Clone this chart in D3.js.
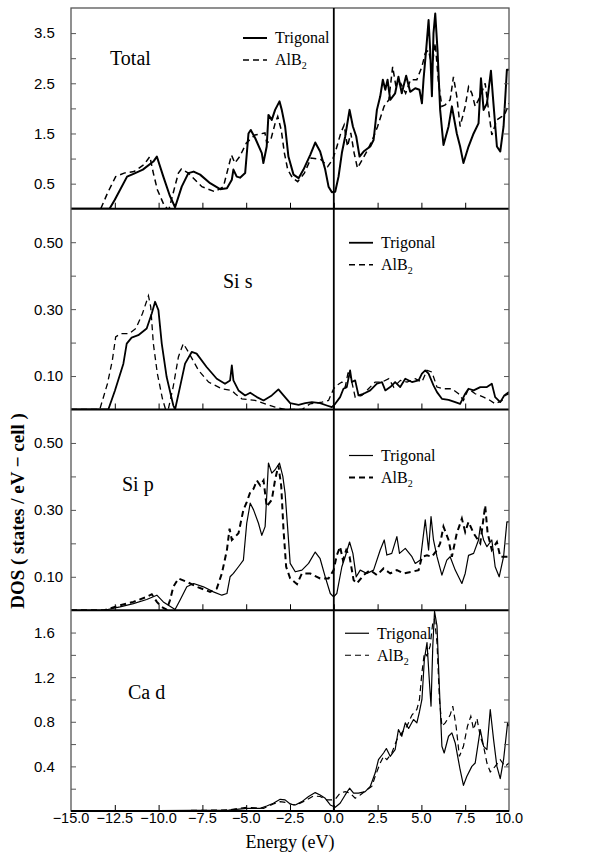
<!DOCTYPE html>
<html>
<head>
<meta charset="utf-8">
<script src="https://cdn.jsdelivr.net/npm/d3@7"></script>
<style>
	body { margin: 0; background: #fff; }
	svg { display: block; }
	text.tick-label { font-family: "Liberation Sans", Arial, sans-serif; fill: #000; }
	text.serif { font-family: "Liberation Serif", "DejaVu Serif", serif; fill: #000; }
</style>
</head>
<body>
<svg id="chart" width="616" height="862"></svg>
<script>
(function() {

	var energyTicks = [-15, -12.5, -10, -7.5, -5, -2.5, 0, 2.5, 5, 7.5, 10];
	var panelNames = ['Total', 'Si s', 'Si p', 'Ca d'];
	var seriesNames = ['Trigonal', 'AlB'];
	var yMax = [4.0, 0.6, 0.6, 1.8];
	var yTickStep = [0.5, 0.1, 0.1, 0.2];
	var yTickLabels = [[0.5, 1.5, 2.5, 3.5], [0.1, 0.3, 0.5], [0.1, 0.3, 0.5], [0.4, 0.8, 1.2, 1.6]];

	// [energy eV, DOS]
	var totalTrigonal = [[-15,0],[-12.8,0],[-12.5,0.18],[-11.8,0.64],[-11.4,0.70],[-10.9,0.78],[-10.3,0.94],[-10.1,1.04],[-9.73,0.64],[-9.35,0.25],[-9.06,0.03],[-8.68,0.44],[-8.3,0.71],[-8.0,0.74],[-7.63,0.68],[-7.06,0.51],[-6.49,0.39],[-6.1,0.41],[-5.82,0.58],[-5.73,0.78],[-5.54,0.64],[-5.35,0.62],[-5.06,0.71],[-4.87,1.5],[-4.74,1.57],[-4.49,1.41],[-4.11,1.11],[-4.02,0.91],[-3.83,1.24],[-3.73,1.87],[-3.54,1.77],[-3.35,1.97],[-3.1,2.14],[-2.97,1.97],[-2.78,1.64],[-2.59,1.04],[-2.3,0.68],[-2.01,0.61],[-1.73,0.78],[-1.35,1.07],[-1.06,1.32],[-0.78,1.14],[-0.49,0.78],[-0.3,0.44],[-0.11,0.33],[0.08,0.34],[0.27,0.64],[0.46,1.11],[0.65,1.44],[0.9,1.97],[1.09,1.64],[1.28,1.44],[1.47,1.04],[1.7,1.14],[2.08,1.24],[2.27,1.37],[2.46,1.97],[2.65,2.24],[2.8,2.57],[2.94,2.37],[3.07,2.57],[3.22,2.17],[3.5,2.30],[3.69,2.63],[3.88,2.30],[4.13,2.65],[4.36,2.33],[4.65,2.40],[4.89,2.37],[5.03,2.10],[5.12,2.57],[5.27,3.16],[5.41,3.76],[5.5,3.16],[5.6,2.24],[5.69,3.5],[5.79,3.89],[5.92,3.16],[6.07,1.97],[6.26,1.27],[6.55,1.64],[6.74,2.04],[7.02,1.5],[7.21,1.24],[7.4,0.91],[7.69,1.24],[7.98,1.5],[8.26,1.70],[8.4,2.6],[8.55,1.97],[8.74,2.10],[8.97,2.75],[9.08,2.24],[9.31,1.24],[9.5,1.14],[9.69,1.64],[9.88,2.77],[10,2.77]];
	var totalAlB2 = [[-15,0],[-13.3,0],[-12.92,0.31],[-12.45,0.64],[-11.97,0.71],[-11.4,0.74],[-10.83,0.88],[-10.5,1.04],[-10.3,0.71],[-10.07,0.38],[-9.7,0.08],[-9.5,0],[-9.4,0],[-9.17,0.31],[-8.87,0.71],[-8.7,0.79],[-8.3,0.71],[-7.53,0.44],[-6.79,0.34],[-6.3,0.44],[-5.84,1.07],[-5.65,0.91],[-5.37,1.04],[-4.99,1.31],[-4.5,1.47],[-3.93,1.51],[-3.83,1.31],[-3.6,1.37],[-3.35,1.7],[-3.2,1.84],[-3.0,1.57],[-2.82,1.11],[-2.63,0.78],[-2.35,0.61],[-2.06,0.54],[-1.68,0.71],[-1.3,1.01],[-0.73,0.98],[-0.35,0.84],[-0.07,0.98],[0.12,1.17],[0.4,1.51],[0.59,1.67],[0.78,1.24],[0.97,1.51],[1.16,1.11],[1.35,0.81],[1.63,0.98],[1.93,1.17],[2.2,1.37],[2.5,1.64],[2.87,2.04],[3.14,2.17],[3.36,2.83],[3.55,2.43],[3.82,2.5],[4.1,2.3],[4.38,2.57],[4.74,2.57],[5.03,2.83],[5.22,3.1],[5.41,3.16],[5.6,2.83],[5.79,3.3],[5.98,2.5],[6.17,2.04],[6.36,2.07],[6.64,2.17],[6.83,2.63],[7.02,2.24],[7.21,1.64],[7.5,2.04],[7.69,2.43],[7.88,2.3],[8.07,2.04],[8.36,2.24],[8.64,2.5],[8.83,1.97],[9.02,1.47],[9.31,1.77],[9.6,1.84],[9.78,1.9],[10,2.1]];

	var sisTrigonal = [[-15,0],[-12.87,0],[-12.49,0.057],[-12.01,0.137],[-11.82,0.197],[-11.54,0.215],[-11.16,0.222],[-10.68,0.242],[-10.39,0.287],[-10.2,0.322],[-10.01,0.297],[-9.82,0.197],[-9.54,0.097],[-9.16,0.012],[-9.06,0],[-8.78,0.067],[-8.49,0.137],[-8.11,0.172],[-7.83,0.167],[-7.26,0.127],[-6.68,0.092],[-6.21,0.077],[-5.92,0.087],[-5.82,0.132],[-5.73,0.087],[-5.44,0.057],[-5.06,0.042],[-4.77,0.05],[-4.39,0.037],[-4.01,0.027],[-3.54,0.042],[-3.16,0.06],[-2.87,0.042],[-2.49,0.019],[-2.01,0.014],[-1.63,0.019],[-1.25,0.022],[-0.78,0.019],[-0.4,0.012],[-0.11,0.007],[0.08,0.017],[0.36,0.037],[0.55,0.062],[0.74,0.067],[0.93,0.117],[1.03,0.082],[1.22,0.087],[1.41,0.042],[1.7,0.047],[2.08,0.057],[2.46,0.077],[2.75,0.082],[2.94,0.057],[3.22,0.067],[3.5,0.082],[3.79,0.067],[4.08,0.092],[4.46,0.082],[4.84,0.087],[5.03,0.107],[5.22,0.117],[5.41,0.107],[5.69,0.072],[5.89,0.052],[6.17,0.032],[6.55,0.029],[6.93,0.022],[7.21,0.017],[7.5,0.047],[7.69,0.062],[7.98,0.057],[8.36,0.067],[8.74,0.067],[9.02,0.077],[9.21,0.037],[9.5,0.022],[9.73,0.042],[10,0.052]];
	var sisAlB2 = [[-15,0],[-13.36,0],[-12.92,0.077],[-12.64,0.147],[-12.45,0.217],[-12.16,0.227],[-11.68,0.227],[-11.3,0.242],[-10.92,0.287],[-10.58,0.34],[-10.45,0.307],[-10.3,0.197],[-10.07,0.107],[-9.78,0.032],[-9.6,0],[-9.45,0],[-9.17,0.067],[-8.87,0.157],[-8.59,0.197],[-8.3,0.172],[-7.72,0.117],[-7.15,0.082],[-6.39,0.062],[-5.82,0.057],[-5.63,0.047],[-5.25,0.032],[-4.49,0.027],[-3.92,0.017],[-3.35,0.007],[-2.78,0],[-1.82,0],[-1.35,0.017],[-0.68,0.022],[-0.3,0.027],[-0.01,0.062],[0.17,0.072],[0.46,0.082],[0.65,0.067],[0.84,0.117],[1.03,0.082],[1.22,0.037],[1.6,0.042],[1.98,0.062],[2.36,0.082],[2.75,0.082],[3.14,0.092],[3.42,0.067],[3.8,0.087],[4.18,0.082],[4.65,0.092],[5.03,0.082],[5.32,0.117],[5.6,0.112],[5.89,0.067],[6.26,0.062],[6.74,0.062],[7.12,0.047],[7.4,0.027],[7.69,0.062],[8.07,0.047],[8.55,0.037],[8.93,0.027],[9.21,0.017],[9.6,0.027],[9.78,0.042],[10,0.047]];

	var sipTrigonal = [[-15,0],[-13.1,0],[-12.2,0.01],[-11.44,0.02],[-10.68,0.032],[-10.1,0.045],[-9.73,0.025],[-9.35,0.012],[-9.06,0.002],[-8.78,0.03],[-8.39,0.07],[-8.0,0.08],[-7.44,0.07],[-6.87,0.055],[-6.39,0.045],[-6.1,0.05],[-5.92,0.10],[-5.73,0.11],[-5.44,0.13],[-5.16,0.15],[-4.97,0.26],[-4.77,0.32],[-4.58,0.30],[-4.3,0.26],[-4.11,0.224],[-3.92,0.25],[-3.83,0.34],[-3.73,0.44],[-3.54,0.41],[-3.35,0.42],[-3.1,0.44],[-2.91,0.40],[-2.78,0.35],[-2.64,0.25],[-2.49,0.14],[-2.2,0.115],[-1.82,0.12],[-1.44,0.14],[-1.06,0.174],[-0.78,0.154],[-0.49,0.10],[-0.2,0.05],[-0.01,0.04],[0.17,0.05],[0.46,0.13],[0.65,0.16],[0.9,0.204],[1.09,0.17],[1.28,0.10],[1.51,0.12],[1.89,0.11],[2.27,0.12],[2.65,0.18],[2.88,0.21],[3.03,0.165],[3.31,0.17],[3.6,0.22],[3.75,0.17],[4.08,0.185],[4.46,0.16],[4.65,0.14],[4.94,0.15],[5.22,0.27],[5.41,0.18],[5.55,0.28],[5.69,0.21],[5.89,0.16],[6.17,0.105],[6.45,0.15],[6.64,0.16],[6.93,0.12],[7.31,0.08],[7.5,0.11],[7.69,0.164],[7.98,0.17],[8.26,0.21],[8.36,0.25],[8.55,0.21],[8.74,0.19],[9.02,0.21],[9.21,0.13],[9.44,0.10],[9.69,0.16],[9.88,0.264],[10,0.264]];
	var sipAlB2 = [[-15,0],[-13.1,0],[-12.2,0.015],[-11.44,0.025],[-10.68,0.04],[-10.39,0.048],[-10.1,0.025],[-9.82,0.01],[-9.54,0.002],[-9.35,0.03],[-9.16,0.07],[-8.87,0.095],[-8.39,0.085],[-7.82,0.07],[-7.06,0.055],[-6.68,0.065],[-6.39,0.11],[-6.1,0.18],[-5.95,0.244],[-5.82,0.21],[-5.63,0.22],[-5.44,0.23],[-5.16,0.30],[-4.97,0.323],[-4.77,0.353],[-4.58,0.363],[-4.39,0.388],[-4.2,0.373],[-4.01,0.388],[-3.83,0.31],[-3.54,0.33],[-3.35,0.39],[-3.16,0.433],[-3.0,0.37],[-2.87,0.24],[-2.72,0.13],[-2.49,0.095],[-2.1,0.078],[-1.82,0.11],[-1.35,0.11],[-0.78,0.095],[-0.3,0.095],[-0.01,0.12],[0.17,0.164],[0.36,0.19],[0.52,0.15],[0.71,0.18],[0.9,0.16],[1.13,0.09],[1.32,0.08],[1.7,0.105],[2.08,0.12],[2.46,0.105],[2.84,0.125],[3.22,0.11],[3.6,0.12],[3.98,0.11],[4.46,0.115],[4.84,0.12],[5.03,0.16],[5.32,0.164],[5.6,0.16],[5.89,0.18],[6.07,0.20],[6.26,0.25],[6.55,0.21],[6.74,0.16],[7.02,0.23],[7.31,0.274],[7.5,0.234],[7.69,0.264],[7.98,0.23],[8.36,0.20],[8.64,0.313],[8.78,0.23],[9.02,0.18],[9.31,0.204],[9.5,0.16],[9.78,0.16],[10,0.16]];

	var cadTrigonal = [[-15,0],[-13,0],[-10,0.003],[-8,0.005],[-6,0.008],[-4.97,0.024],[-4.2,0.024],[-3.83,0.045],[-3.45,0.07],[-3.06,0.105],[-2.78,0.1],[-2.49,0.063],[-2.2,0.054],[-1.82,0.084],[-1.44,0.13],[-1.06,0.165],[-0.78,0.144],[-0.49,0.114],[-0.2,0.054],[0.08,0.033],[0.36,0.07],[0.65,0.144],[0.9,0.204],[1.13,0.16],[1.41,0.16],[1.79,0.174],[2.08,0.22],[2.36,0.34],[2.55,0.46],[2.84,0.52],[3.0,0.56],[3.22,0.49],[3.5,0.55],[3.69,0.73],[3.88,0.67],[4.08,0.79],[4.27,0.74],[4.55,0.82],[4.74,0.79],[4.89,0.89],[5.03,1.0],[5.17,1.36],[5.32,1.51],[5.46,1.15],[5.55,0.94],[5.65,1.48],[5.75,1.79],[5.89,1.66],[6.03,1.09],[6.17,0.58],[6.3,0.52],[6.55,0.67],[6.74,0.70],[6.93,0.61],[7.21,0.37],[7.4,0.23],[7.59,0.31],[7.88,0.40],[8.07,0.43],[8.36,0.73],[8.55,0.58],[8.74,0.55],[8.93,0.91],[9.12,0.64],[9.31,0.40],[9.5,0.29],[9.69,0.46],[9.92,0.79],[10,0.76]];
	var cadAlB2 = [[-15,0],[-13,0],[-10,0.003],[-8,0.005],[-6,0.01],[-4.97,0.033],[-4.01,0.024],[-3.45,0.063],[-3.06,0.084],[-2.68,0.075],[-2.3,0.054],[-1.92,0.07],[-1.54,0.1],[-1.16,0.135],[-0.78,0.13],[-0.4,0.1],[-0.11,0.1],[0.08,0.105],[0.36,0.16],[0.65,0.174],[0.93,0.16],[1.22,0.114],[1.51,0.144],[1.89,0.19],[2.17,0.22],[2.36,0.31],[2.65,0.43],[2.84,0.49],[3.03,0.46],[3.31,0.52],[3.6,0.64],[3.88,0.70],[4.17,0.76],[4.46,0.86],[4.74,0.91],[4.89,1.0],[5.03,1.24],[5.17,1.42],[5.32,1.39],[5.5,1.48],[5.65,1.69],[5.75,1.72],[5.89,1.51],[6.03,1.0],[6.17,0.76],[6.36,0.79],[6.64,0.86],[6.79,0.94],[6.98,0.76],[7.17,0.49],[7.4,0.58],[7.63,0.76],[7.82,0.85],[7.98,0.73],[8.17,0.83],[8.36,0.67],[8.55,0.58],[8.74,0.43],[8.93,0.35],[9.21,0.40],[9.5,0.46],[9.78,0.40],[10,0.43]];

	var trigonalSeries = [totalTrigonal, sisTrigonal, sipTrigonal, cadTrigonal];
	var alb2Series = [totalAlB2, sisAlB2, sipAlB2, cadAlB2];

	// layout
	var left = 71, right = 509, top = 8, bottom = 811,
		panelH = (bottom - top)/4,
		serifFont = '"Liberation Serif", "DejaVu Serif", serif';

	// per panel styling: [solid width, dashed width]
	var lineWidths = [[2, 1.5], [1.8, 1.3], [1.2, 2], [1.2, 1.2]];
	var labelPos = [[110, 57], [223, 79], [122, 81], [128, 89]];
	var legendPos = [[243, 30], [349, 34], [349, 46], [345, 23]];

	var svg = d3.select('#chart');

	var x = d3.scaleLinear()
		.domain([-15, 10])
		.range([left, right]);

	init();

	function init()
	{
		panelNames.forEach(makePanel);
		makeFrame();
		makeLabels();
	}

	function makePanel(name, i)
	{
		var y0 = top + i*panelH;
		var y = d3.scaleLinear()
			.domain([0, yMax[i]])
			.range([y0 + panelH, y0]);

		var g = svg.append('g').attr('class', 'panel');

		g.append('clipPath')
			.attr('id', 'clip' + i)
			.append('rect')
			.attr('x', left)
			.attr('y', y0)
			.attr('width', right - left)
			.attr('height', panelH);

		var line = d3.line()
			.x(function(d) { return x(d[0]); })
			.y(function(d) { return y(d[1]); });

		var curves = g.append('g').attr('clip-path', 'url(#clip' + i + ')');

		curves.append('path')
			.attr('d', line(alb2Series[i]))
			.attr('fill', 'none')
			.attr('stroke', '#000')
			.attr('stroke-width', lineWidths[i][1])
			.attr('stroke-dasharray', '6,4');

		curves.append('path')
			.attr('d', line(trigonalSeries[i]))
			.attr('fill', 'none')
			.attr('stroke', '#000')
			.attr('stroke-width', lineWidths[i][0])
			.attr('stroke-linejoin', 'round');

		// y ticks, inward on both sides
		var ticks = d3.range(yTickStep[i], yMax[i] - 1e-6, yTickStep[i]);
		var yl = d3.axisRight(y).tickValues(ticks).tickSize(5).tickFormat('');
		var yr = d3.axisLeft(y).tickValues(ticks).tickSize(5).tickFormat('');

		g.append('g')
			.attr('transform', 'translate(' + left + ',0)')
			.call(yl)
			.call(cleanAxis, '#555');

		g.append('g')
			.attr('transform', 'translate(' + right + ',0)')
			.call(yr)
			.call(cleanAxis, '#555');

		var fmt = i === 1 || i === 2 ? d3.format('.2f') : d3.format('.1f');
		g.selectAll('.ylab')
			.data(yTickLabels[i])
			.enter()
			.append('text')
			.attr('class', 'tick-label')
			.attr('x', 34)
			.attr('y', function(d) { return y(d); })
			.attr('dy', '0.36em')
			.style('font-size', '15px')
			.text(fmt);

		// x ticks at panel bottom, pointing up
		var xa = d3.axisTop(x).tickValues(energyTicks.slice(1, -1)).tickSize(6).tickFormat('');
		g.append('g')
			.attr('transform', 'translate(0,' + (y0 + panelH) + ')')
			.call(xa)
			.call(cleanAxis, '#000');

		// panel separator / bottom line
		g.append('line')
			.attr('x1', left)
			.attr('x2', right)
			.attr('y1', y0 + panelH)
			.attr('y2', y0 + panelH)
			.attr('stroke', '#000')
			.attr('stroke-width', 2);

		g.append('text')
			.attr('class', 'serif')
			.attr('x', labelPos[i][0])
			.attr('y', y0 + labelPos[i][1])
			.style('font-family', serifFont)
			.style('font-size', '20px')
			.text(name);

		makeLegend(g, i, y0);
	}

	function cleanAxis(sel, color)
	{
		sel.select('.domain').remove();
		sel.selectAll('.tick line').attr('stroke', color).attr('stroke-width', 1);
	}

	function makeLegend(g, i, y0)
	{
		var lx = legendPos[i][0], ly = y0 + legendPos[i][1];
		var rows = g.selectAll('.legend')
			.data(seriesNames)
			.enter()
			.append('g')
			.attr('transform', function(d, k) {
				return 'translate(' + lx + ' ' + (ly + k*22) + ')';
			});

		rows.append('line')
			.attr('x1', 0)
			.attr('x2', 24)
			.attr('stroke', '#000')
			.attr('stroke-width', function(d, k) { return lineWidths[i][k]; })
			.attr('stroke-dasharray', function(d, k) { return k ? '6,4' : null; });

		var t = rows.append('text')
			.attr('class', 'serif')
			.attr('x', 32)
			.attr('dy', '0.33em')
			.style('font-family', serifFont)
			.style('font-size', '16px')
			.text(function(d) { return d; });

		t.filter(function(d, k) { return k === 1; })
			.append('tspan')
			.attr('dy', 4)
			.style('font-size', '10px')
			.text('2');
	}

	function makeFrame()
	{
		svg.append('rect')
			.attr('x', left)
			.attr('y', top)
			.attr('width', right - left)
			.attr('height', bottom - top)
			.attr('fill', 'none')
			.attr('stroke', '#555')
			.attr('stroke-width', 1.3);

		svg.append('line')
			.attr('x1', left)
			.attr('x2', right)
			.attr('y1', bottom)
			.attr('y2', bottom)
			.attr('stroke', '#000')
			.attr('stroke-width', 2);

		// Fermi level
		svg.append('line')
			.attr('x1', x(0))
			.attr('x2', x(0))
			.attr('y1', top)
			.attr('y2', bottom)
			.attr('stroke', '#000')
			.attr('stroke-width', 1.8);
	}

	function makeLabels()
	{
		svg.selectAll('.xlab')
			.data(energyTicks)
			.enter()
			.append('text')
			.attr('class', 'tick-label')
			.attr('x', function(d) { return x(d); })
			.attr('y', 823)
			.attr('text-anchor', 'middle')
			.style('font-size', '14.5px')
			.text(d3.format('.1f'));

		svg.append('text')
			.attr('class', 'serif')
			.attr('x', 290)
			.attr('y', 848)
			.attr('text-anchor', 'middle')
			.style('font-family', serifFont)
			.style('font-size', '18px')
			.text('Energy (eV)');

		svg.append('text')
			.attr('class', 'serif')
			.attr('transform', 'translate(24 511) rotate(-90)')
			.attr('text-anchor', 'middle')
			.style('font-family', serifFont)
			.style('font-size', '19px')
			.style('font-weight', 'bold')
			.text('DOS ( states / eV \u2212 cell )');
	}
})();
</script>
</body>
</html>
